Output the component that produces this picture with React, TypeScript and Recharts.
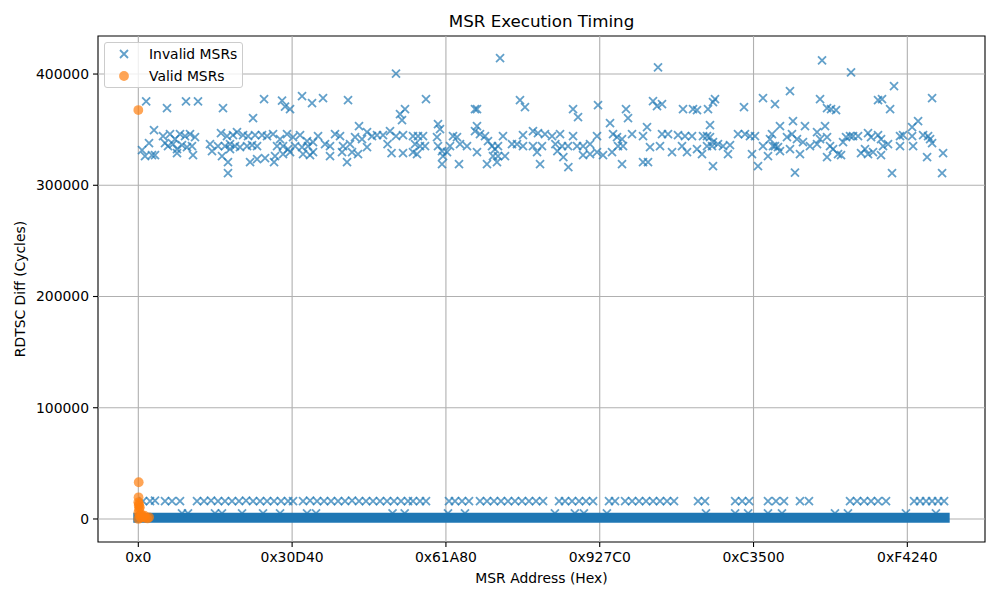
import React from "react";
import { ScatterChart, Scatter, XAxis, YAxis, ReferenceLine, ReferenceArea } from "recharts";

const FONT = "'DejaVu Sans', sans-serif";
const BLUE = "#1f77b4";
const ORANGE = "#ff7f0e";

// axis ranges (matplotlib-style 5% margins around the data)
const xDomain: [number, number] = [-52428.75, 1101003.75];
const yDomain: [number, number] = [-20700, 434200];
const xTicks = [0, 200000, 400000, 600000, 800000, 1000000];
const yTicks = [0, 100000, 200000, 300000, 400000];

// invalid MSRs with high timing: [address (k), cycles (k)]
const invalidHigh: [number, number][] = [
  [10.2, 375.5], [37.3, 369.4], [62.0, 375.5], [77.6, 375.5], [110.1, 369.4], [163.5, 377.5], [149.2, 360.4],
  [20.4, 349.6], [13.9, 337.9], [4.8, 331.6], [8.7, 326.2], [17.8, 327.1], [21.7, 327.1], [32.1, 344.2],
  [34.7, 337.9], [41.2, 346.0], [47.7, 341.5], [54.2, 346.0], [60.7, 344.2], [67.2, 346.0], [73.7, 343.3],
  [38.6, 335.2], [45.1, 337.0], [50.3, 332.5], [56.8, 336.1], [63.3, 334.3], [69.8, 335.2], [71.1, 327.1],
  [50.3, 328.9], [93.2, 337.0], [95.8, 330.7], [107.5, 346.9], [115.3, 344.2], [123.1, 345.1], [128.3, 347.8],
  [136.2, 345.1], [142.7, 344.2], [151.8, 345.1], [160.9, 345.1], [167.4, 344.2], [103.6, 335.2], [112.7, 335.2],
  [119.2, 337.0], [125.7, 335.2], [132.2, 334.3], [141.4, 335.2], [147.9, 336.1], [154.4, 335.2], [119.2, 332.5],
  [108.8, 326.2], [116.6, 320.8], [145.3, 320.8], [154.4, 323.5], [164.8, 324.4], [116.6, 310.9],
  [335.1, 400.4], [186.9, 376.1], [190.8, 370.7], [197.3, 368.5], [212.9, 380.2], [225.9, 373.9], [240.2, 378.4],
  [272.7, 376.6], [340.3, 364.0], [346.8, 368.5], [342.9, 358.6], [287.0, 353.2], [175.2, 346.0], [184.3, 341.5],
  [193.4, 346.0], [201.2, 343.3], [210.3, 345.1], [219.4, 339.7], [227.2, 338.8], [233.7, 344.2], [180.4, 335.2],
  [188.2, 335.2], [194.7, 332.5], [203.8, 335.2], [212.9, 334.3], [220.7, 335.2], [177.8, 326.2], [188.2, 328.0],
  [197.3, 329.8], [214.2, 328.0], [223.3, 327.1], [227.2, 329.8], [176.5, 320.8], [242.8, 337.0], [249.3, 335.2],
  [255.8, 346.0], [262.3, 344.2], [266.2, 335.2], [275.3, 337.0], [281.8, 343.3], [290.9, 341.5], [297.4, 347.8],
  [303.9, 344.2], [310.4, 345.1], [318.2, 345.1], [327.3, 348.7], [335.1, 344.2], [344.2, 345.1], [249.3, 326.2],
  [264.9, 329.8], [271.4, 320.8], [277.9, 329.8], [285.7, 328.0], [297.4, 334.3], [324.1, 337.0], [329.3, 328.9],
  [344.2, 328.9],
  [470.4, 414.4], [374.1, 377.5], [437.8, 368.5], [440.4, 368.5], [496.3, 376.6], [502.8, 370.3], [357.2, 344.2],
  [363.7, 344.2], [370.2, 344.2], [359.8, 337.0], [366.3, 335.2], [357.2, 329.8], [362.4, 328.0], [372.8, 335.2],
  [389.7, 355.0], [392.3, 350.5], [388.4, 343.3], [389.7, 335.2], [394.9, 330.7], [396.2, 326.2], [405.3, 335.2],
  [409.2, 344.2], [414.4, 343.3], [418.3, 337.0], [427.4, 335.2], [401.4, 329.8], [394.9, 319.0], [417.0, 319.0],
  [440.4, 353.2], [437.8, 348.7], [444.3, 346.0], [450.8, 344.2], [454.7, 339.7], [459.9, 335.2], [463.8, 332.5],
  [467.7, 335.2], [474.2, 344.2], [440.4, 329.8], [461.2, 326.2], [467.7, 326.2], [476.8, 326.2], [453.4, 319.0],
  [466.4, 320.8], [485.9, 337.0], [492.4, 337.0], [500.2, 335.2], [500.2, 345.1], [513.2, 348.7], [519.7, 346.9],
  [513.2, 335.2], [524.9, 335.2], [528.8, 346.0], [518.5, 329.8], [522.4, 319.0],
  [675.8, 405.9], [565.3, 368.5], [571.8, 361.3], [597.8, 372.1], [634.2, 368.5], [636.8, 360.4], [613.4, 355.9],
  [669.3, 375.7], [674.5, 371.2], [681.0, 373.0], [708.3, 368.5], [661.5, 352.3], [538.0, 344.2], [548.4, 346.0],
  [542.3, 337.0], [551.0, 335.2], [558.8, 335.2], [565.3, 344.2], [570.5, 335.2], [578.3, 335.2], [587.4, 337.0],
  [596.5, 344.2], [617.3, 346.0], [622.5, 343.3], [629.0, 341.5], [642.0, 346.0], [656.3, 344.2], [681.0, 346.0],
  [688.8, 346.0], [701.8, 345.1], [710.9, 344.2], [544.9, 330.7], [552.7, 325.3], [559.2, 316.3], [578.3, 327.1],
  [587.4, 328.0], [596.5, 329.8], [604.3, 327.1], [616.0, 329.8], [623.8, 335.2], [630.3, 335.2], [665.4, 334.3],
  [678.4, 335.2], [694.0, 329.8], [707.0, 335.2], [713.5, 329.8], [629.0, 319.0], [656.3, 320.8], [662.8, 320.8],
  [889.1, 412.2], [749.9, 377.5], [747.3, 374.8], [721.3, 368.5], [740.8, 368.5], [726.5, 367.6], [787.6, 370.3],
  [812.3, 378.4], [827.9, 373.0], [847.4, 384.7], [886.5, 377.5], [895.6, 369.4], [743.4, 354.1], [851.3, 357.7],
  [834.4, 353.2], [866.9, 353.2], [720.0, 344.2], [734.3, 344.2], [739.5, 344.2], [743.4, 343.3], [747.3, 338.8],
  [753.8, 337.0], [760.3, 335.2], [769.4, 336.1], [779.8, 346.0], [788.9, 346.0], [795.4, 344.2], [801.9, 344.2],
  [824.0, 346.0], [821.4, 341.5], [827.9, 335.2], [831.8, 334.3], [843.5, 343.3], [850.0, 346.0], [856.5, 341.5],
  [864.3, 338.8], [882.6, 347.8], [886.5, 341.5], [893.0, 353.2], [895.6, 343.3], [726.5, 332.5], [733.0, 328.0],
  [739.5, 335.2], [746.0, 335.2], [766.8, 328.0], [798.0, 328.0], [805.8, 317.2], [812.3, 335.2], [818.8, 326.2],
  [825.3, 335.2], [834.4, 330.7], [847.4, 332.5], [860.4, 328.0], [873.4, 335.2], [882.6, 337.0], [895.6, 325.3],
  [747.3, 317.2], [853.9, 311.3],
  [926.8, 401.4], [982.7, 389.2], [961.9, 376.6], [967.1, 377.5], [900.8, 368.5], [907.3, 367.6], [977.6, 368.5],
  [1032.2, 378.4], [1014.0, 357.7], [1006.2, 352.3], [899.5, 335.2], [903.4, 332.5], [916.4, 338.8], [920.3, 343.3],
  [925.5, 344.2], [929.4, 344.2], [935.9, 344.2], [948.9, 346.9], [952.8, 343.3], [961.9, 345.1], [965.8, 341.5],
  [968.4, 335.2], [974.9, 337.0], [990.5, 344.2], [994.4, 345.1], [990.5, 335.2], [1006.2, 344.2], [1007.5, 335.2],
  [1020.5, 345.1], [1027.0, 344.2], [1029.6, 341.5], [1032.2, 337.9], [909.9, 328.0], [913.8, 327.1], [939.8, 328.9],
  [945.0, 332.5], [948.9, 328.0], [955.4, 329.8], [965.8, 327.1], [1025.7, 325.3], [1046.5, 328.9], [980.1, 310.9],
  [1045.2, 310.9],
];

// invalid MSRs around 16k cycles
const invalidMid: [number, number][] = [
  [6.1, 16], [15.2, 16], [21.7, 16.5], [34.7, 16], [43.8, 16], [54.2, 16], [76.3, 16], [85.4, 16], [94.6, 16.5],
  [103.6, 16], [112.7, 16], [121.8, 16], [130.9, 16], [140.1, 16.5], [149.2, 16], [158.3, 16], [167.4, 16],
  [176.5, 16], [185.6, 16], [194.7, 16], [201.2, 16], [214.2, 16], [223.3, 16.5], [232.4, 16], [241.5, 16],
  [250.6, 16], [259.7, 16], [268.8, 16], [277.9, 16.5], [287.0, 16], [296.1, 16], [305.2, 16], [314.3, 16],
  [323.4, 16], [332.5, 16], [341.6, 16], [350.7, 16], [357.2, 16], [366.3, 16], [374.1, 16], [404.0, 16],
  [411.8, 16], [420.9, 16], [430.0, 16], [444.3, 16], [453.4, 16], [462.5, 16], [471.6, 16], [480.7, 16],
  [489.8, 16], [498.9, 16], [508.0, 16], [517.2, 16], [526.3, 16], [547.1, 16], [554.9, 16], [564.0, 16],
  [573.1, 16], [582.2, 16], [591.3, 16], [612.1, 16], [619.9, 16], [633.0, 16], [642.1, 16], [651.2, 16],
  [660.3, 16], [669.4, 16], [678.4, 16], [687.5, 16], [696.6, 16], [727.8, 16], [736.9, 16], [776.1, 16],
  [785.2, 16], [794.3, 16], [818.8, 16], [829.2, 16], [839.6, 16], [860.4, 16], [872.1, 16], [925.5, 16],
  [934.6, 16], [943.7, 16], [952.8, 16], [961.9, 16], [972.3, 16], [1008.8, 16], [1016.6, 16], [1024.4, 16],
  [1032.2, 16], [1040.0, 16], [1047.8, 16],
];

// invalid MSRs around 5k cycles (mostly hidden by the dense band)
const invalidLow: [number, number][] = [
  [56.8, 5], [64.6, 5], [99.7, 5], [108.8, 5], [134.9, 5], [162.2, 5], [184.3, 5], [219.4, 5], [231.1, 5],
  [330.6, 5], [346.4, 5], [402.7, 5], [424.8, 5], [541.7, 5], [567.7, 5], [579.4, 5], [609.3, 5], [738.2, 5],
  [776.1, 5], [793.0, 5], [818.8, 5], [837.0, 5], [905.9, 5], [922.8, 5], [998.2, 5], [1037.2, 5],
];

// the ~1M invalid MSRs near 0 cycles overlap into one solid band: [first address, last address] and level (k)
const bandRange = [0x0, 0xfffff];
const bandLevel = 1;

// valid MSRs (all sit at the very start of the address space)
const valid: [number, number][] = [
  [0, 367.6], [0.5, 33], [0.3, 19.5], [0, 15], [0.5, 12], [1, 9], [0.2, 6], [1.5, 3], [0, 0], [3, 1],
  [6, 2], [9, 1], [12, 0.5], [14, 1.5], [4, 4], [8, 3], [2, 10.5], [1, 13.5],
];

const toPts = (rows: [number, number][]) => rows.map(([a, v]) => ({ addr: a * 1000, val: v * 1000 }));

const invalidPts = [...toPts(invalidLow), ...toPts(invalidMid), ...toPts(invalidHigh)];
const validPts = toPts(valid);
const bandPts = bandRange.map((a) => ({ addr: a, val: bandLevel * 1000 }));

const hex = (v: number) => "0x" + Math.round(v).toString(16).toUpperCase();

function XMark(props: any) {
  const { cx, cy } = props;
  if (cx == null || cy == null) return <g />;
  const h = 4;
  return (
    <path
      d={`M${cx - h},${cy - h}L${cx + h},${cy + h}M${cx - h},${cy + h}L${cx + h},${cy - h}`}
      stroke={BLUE}
      strokeWidth={1.8}
      strokeOpacity={0.7}
      fill="none"
    />
  );
}

function Dot(props: any) {
  const { cx, cy } = props;
  if (cx == null || cy == null) return <g />;
  return <circle cx={cx} cy={cy} r={4.9} fill={ORANGE} fillOpacity={0.7} />;
}

const tickStyle = { fill: "#000", fontSize: 13.9, fontFamily: FONT };

export default function App() {
  return (
    <div style={{ position: "absolute", left: 0, top: 0, width: 1000, height: 600, background: "#fff", fontFamily: FONT }}>
      <ScatterChart width={1000} height={600} margin={{ top: 36, right: 15, bottom: 28, left: 0 }}>
        <XAxis
          type="number"
          dataKey="addr"
          domain={xDomain}
          ticks={xTicks}
          interval={0}
          allowDataOverflow
          tickFormatter={hex}
          height={30}
          tickSize={5}
          tickMargin={5}
          axisLine={false}
          tickLine={{ stroke: "#000", strokeWidth: 1.1 }}
          tick={tickStyle}
        />
        <YAxis
          type="number"
          dataKey="val"
          domain={yDomain}
          ticks={yTicks}
          interval={0}
          allowDataOverflow
          width={98}
          tickSize={5}
          tickMargin={4}
          axisLine={false}
          tickLine={{ stroke: "#000", strokeWidth: 1.1 }}
          tick={tickStyle}
        />
        <Scatter
          data={bandPts}
          line={{ stroke: BLUE, strokeWidth: 10, strokeLinecap: "square" }}
          shape={() => <g />}
          isAnimationActive={false}
        />
        <Scatter data={invalidPts} shape={XMark} isAnimationActive={false} />
        <Scatter data={validPts} shape={Dot} isAnimationActive={false} />
        {xTicks.map((t) => (
          <ReferenceLine key={"gx" + t} x={t} stroke="#b0b0b0" strokeWidth={1.1} />
        ))}
        {yTicks.map((t) => (
          <ReferenceLine key={"gy" + t} y={t} stroke="#b0b0b0" strokeWidth={1.1} />
        ))}
        <ReferenceArea
          x1={xDomain[0]}
          x2={xDomain[1]}
          y1={yDomain[0]}
          y2={yDomain[1]}
          fill="none"
          fillOpacity={0}
          stroke="#000"
          strokeWidth={1.1}
        />
      </ScatterChart>

      <div style={{ position: "absolute", left: 541.5, top: 21, transform: "translate(-50%, -50%)", fontSize: 16.7, whiteSpace: "nowrap" }}>
        MSR Execution Timing
      </div>
      <div style={{ position: "absolute", left: 541.5, top: 578, transform: "translate(-50%, -50%)", fontSize: 13.9, whiteSpace: "nowrap" }}>
        MSR Address (Hex)
      </div>
      <div style={{ position: "absolute", left: 20, top: 289, transform: "translate(-50%, -50%) rotate(-90deg)", fontSize: 13.9, whiteSpace: "nowrap" }}>
        RDTSC Diff (Cycles)
      </div>

      {/* legend, upper left */}
      <div
        style={{
          position: "absolute",
          left: 104,
          top: 42,
          width: 137,
          height: 44,
          border: "1px solid #cccccc",
          borderRadius: 3,
          background: "rgba(255,255,255,0.8)",
          fontSize: 13.9,
        }}
      >
        <div style={{ position: "absolute", left: 12, top: 4, display: "flex", alignItems: "center", height: 14 }}>
          <svg width={14} height={14}>
            <path d="M3,3L11,11M3,11L11,3" stroke={BLUE} strokeWidth={1.8} strokeOpacity={0.7} fill="none" />
          </svg>
          <span style={{ marginLeft: 18 }}>Invalid MSRs</span>
        </div>
        <div style={{ position: "absolute", left: 12, top: 26, display: "flex", alignItems: "center", height: 14 }}>
          <svg width={14} height={14}>
            <circle cx={7} cy={7} r={4.9} fill={ORANGE} fillOpacity={0.7} />
          </svg>
          <span style={{ marginLeft: 18 }}>Valid MSRs</span>
        </div>
      </div>
    </div>
  );
}
